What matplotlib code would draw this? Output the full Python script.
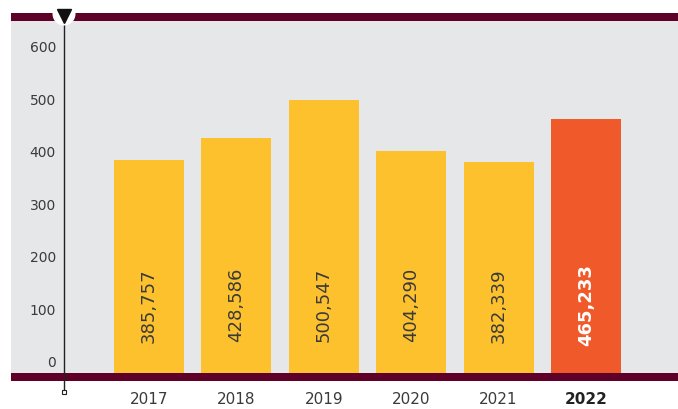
import matplotlib
matplotlib.use("Agg")
import matplotlib.pyplot as plt
from matplotlib.patches import Rectangle, Circle
from matplotlib.lines import Line2D

# --- dane ---
years = ['2017', '2018', '2019', '2020', '2021', '2022']
values = [385.757, 428.586, 500.547, 404.290, 382.339, 465.233]   # tys.
value_labels = ['385,757', '428,586', '500,547', '404,290', '382,339', '465,233']
y_ticks = [0, 100, 200, 300, 400, 500, 600]

YELLOW = '#FDC12E'
ORANGE = '#F05A2A'
MAROON = '#5E0027'
PANEL = '#E6E7E9'
TEXT = '#3a3a3a'

W, H = 678, 409
fig = plt.figure(figsize=(W / 100, H / 100), dpi=100)


def px(x, y):
    # piksele (od lewego gornego rogu) -> wspolrzedne figury
    return x / W, 1 - y / H


# panel wykresu
left, top, right, bottom = 11, 20.7, 678, 373
ax = fig.add_axes([left / W, 1 - bottom / H, (right - left) / W, (bottom - top) / H])
ax.set_facecolor(PANEL)
ymin, ymax = -19, 652
ax.set_ylim(ymin, ymax)
ax.set_xlim(-1.579, 6.053)
for s in ax.spines.values():
    s.set_visible(False)
ax.set_xticks([])
ax.set_yticks([])

x = list(range(len(years)))
colors = [YELLOW] * (len(years) - 1) + [ORANGE]
heights = [v - ymin for v in values]
ax.bar(x, heights, bottom=ymin, width=0.8, color=colors, zorder=2)

# etykiety wartosci w slupkach
for i, lab in enumerate(value_labels):
    last = i == len(years) - 1
    ax.text(i, 110, lab, rotation=90, ha='center', va='center', fontsize=13,
            color='white' if last else TEXT, fontweight='bold' if last else 'normal', zorder=3)

# os Y
axis_x = -0.9725
for t in y_ticks:
    ax.text(-1.065, t, str(t), ha='right', va='center', fontsize=10, color=TEXT)

# lata pod slupkami
for i, yr in enumerate(years):
    last = i == len(years) - 1
    ax.text(i, ymin - 27 * (ymax - ymin) / (bottom - top) * 1.0, yr, ha='center', va='center',
            fontsize=11, color='#222222' if last else TEXT,
            fontweight='bold' if last else 'normal', clip_on=False)

# pasy gorny i dolny
fig.add_artist(Rectangle(px(left, 20.7), (right - left) / W, 8.2 / H,
                         facecolor=MAROON, edgecolor='none', transform=fig.transFigure))
fig.add_artist(Rectangle(px(left, 381), (right - left) / W, 8 / H,
                         facecolor=MAROON, edgecolor='none', transform=fig.transFigure, zorder=3))

# pionowa linia ze znacznikami
x0, y0 = px(64, 14)
x1, y1 = px(64, 392)
fig.add_artist(Line2D([x0, x1], [y0, y1], color='#222222', lw=1.0, zorder=4))
fig.add_artist(Line2D([x1], [y1], marker='s', ms=2.5, mfc='white', mec='#222222', mew=0.8, zorder=5))
fig.add_artist(Circle((64, H - 14), 11.5, facecolor='white', edgecolor='none',
                      transform=None, zorder=5))
fig.add_artist(Line2D([x0], [px(64, 15.5)[1]], marker='v', ms=10, color='#111111', zorder=6))

fig.savefig('out.png', dpi=100)
